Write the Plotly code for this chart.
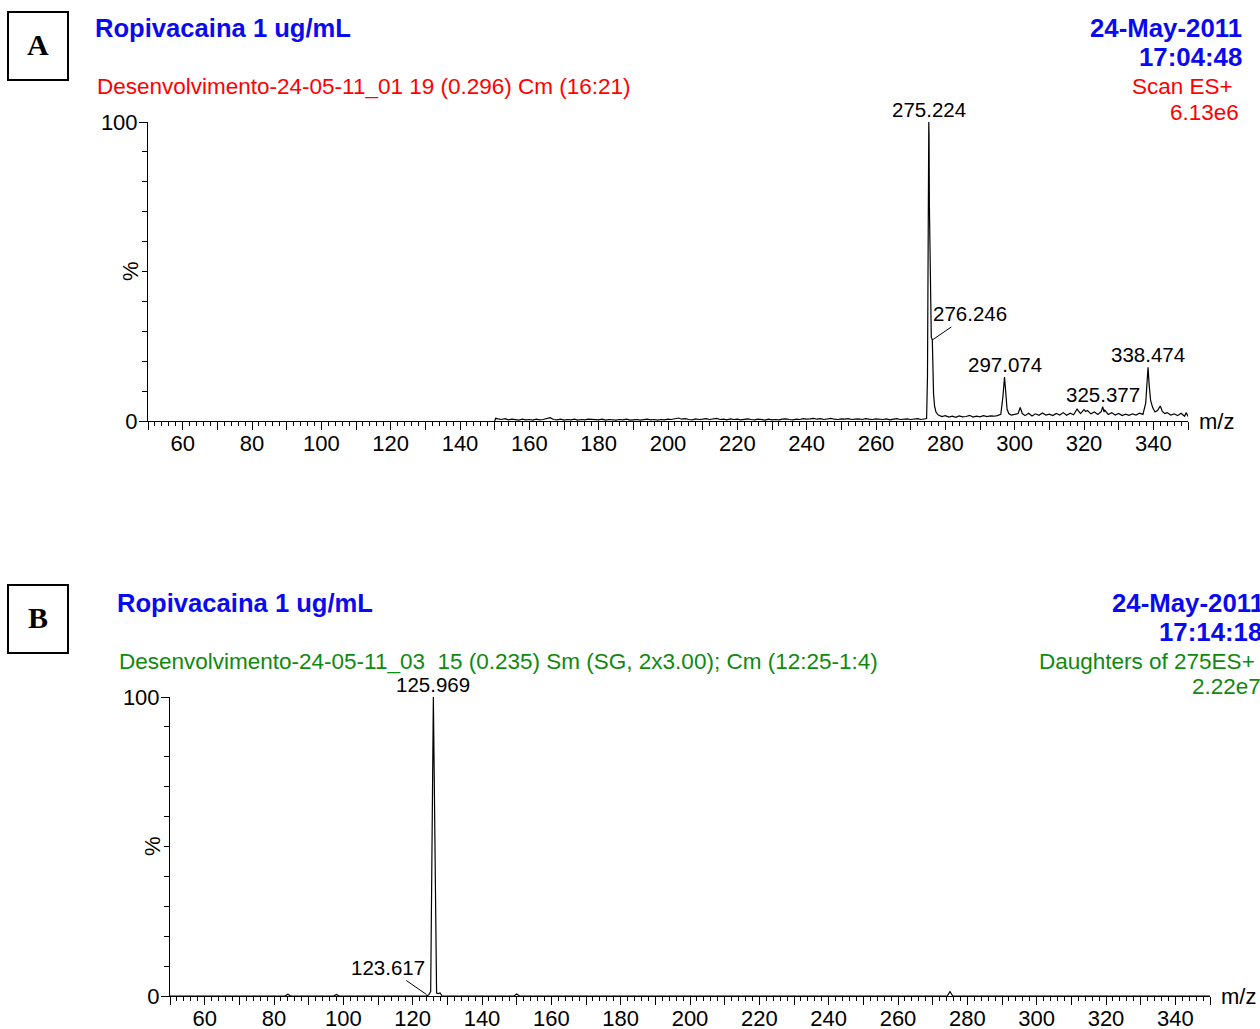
import plotly.graph_objects as go

W, H = 1260, 1029

# ---------------- DATA ----------------
# Panel A spectrum (m/z, relative intensity %)
mz_a = [150.0, 150.3,
        151, 152, 153, 154, 155, 156, 157, 158, 159, 160,
        161, 162, 163, 164, 165, 166, 167, 168, 169, 170,
        171, 172, 173, 174, 175, 176, 177, 178, 179, 180,
        181, 182, 183, 184, 185, 186, 187, 188, 189, 190,
        191, 192, 193, 194, 195, 196, 197, 198, 199, 200,
        201, 202, 203, 204, 205, 206, 207, 208, 209, 210,
        211, 212, 213, 214, 215, 216, 217, 218, 219, 220,
        221, 222, 223, 224, 225, 226, 227, 228, 229, 230,
        231, 232, 233, 234, 235, 236, 237, 238, 239, 240,
        241, 242, 243, 244, 245, 246, 247, 248, 249, 250,
        251, 252, 253, 254, 255, 256, 257, 258, 259, 260,
        261, 262, 263, 264, 265, 266, 267, 268, 269, 270,
        271, 272, 273, 274,
        274.6, 274.85, 275.05, 275.224, 275.3, 275.4, 275.5, 275.7, 275.95, 276.246, 276.35,
        276.6, 276.9, 277.3, 277.8,
        278, 279, 280, 281, 282, 283, 284, 285, 286, 287,
        288, 289, 290, 291, 292, 293, 294, 295, 296, 296.6,
        297.074, 297.4, 297.8, 298.3, 299, 300, 301, 301.6, 302.2, 303,
        304, 305, 306, 307, 308, 309, 310, 311, 312, 313,
        314, 315, 316, 317, 318, 319, 320, 320.5, 321, 322,
        323, 324, 325, 325.377, 325.8, 326, 327, 328, 329, 330,
        331, 332, 333, 334, 335, 336, 337, 337.8, 338.2, 338.474,
        338.8, 339.2, 339.8, 340.5, 341.2, 342, 342.6, 343.3, 344, 345,
        346, 347, 348, 349, 349.5, 350]
int_a = [0.0, 0.9,
         0.7, 0.5, 0.8, 0.4, 0.6, 0.5, 0.3, 0.6, 0.4, 0.5,
         0.3, 0.6, 0.4, 0.5, 0.9, 1.1, 0.5, 0.4, 0.6, 0.3,
         0.5, 0.4, 0.6, 0.3, 0.5, 0.4, 0.6, 0.5, 0.3, 0.4,
         0.6, 0.3, 0.5, 0.4, 0.3, 0.5, 0.4, 0.6, 0.3, 0.4,
         0.5, 0.3, 0.4, 0.6, 0.4, 0.5, 0.3, 0.5, 0.4, 0.6,
         0.5, 0.7, 1.0, 0.6, 0.8, 0.5, 0.4, 0.7, 0.5, 0.6,
         0.8, 0.5, 0.7, 0.9, 0.5, 0.6, 0.4, 0.7, 0.5, 0.6,
         0.4, 0.6, 0.7, 0.5, 0.4, 0.6, 0.5, 0.3, 0.6, 0.4,
         0.5, 0.4, 0.6, 0.7, 0.5, 0.4, 0.6, 0.5, 0.8, 0.6,
         0.7, 0.9, 0.6, 0.8, 0.5, 0.7, 0.9, 0.6, 0.5, 0.7,
         0.6, 0.8, 0.5, 0.6, 0.7, 0.5, 0.8, 0.6, 0.5, 0.7,
         0.6, 0.5, 0.7, 0.4, 0.6, 0.8, 0.5, 0.6, 0.7, 0.5,
         0.6, 0.8, 0.5, 0.7,
         0.8, 15.0, 75.0, 100.0, 96.0, 72.0, 62.0, 40.0, 28.0, 27.1, 19.0,
         9.0, 5.0, 3.0, 2.2,
         2.0, 1.5, 1.8, 1.3, 1.6, 1.2, 1.7, 1.4, 1.5, 1.9,
         1.3, 1.6, 1.4, 1.8, 1.5, 1.7, 1.6, 1.8, 2.2, 8.0,
         14.7, 10.0, 4.0, 2.5, 2.0, 2.2, 2.5, 4.5, 2.5, 1.8,
         2.6, 1.7, 2.4, 1.9, 2.7, 2.0, 2.3, 1.8, 2.5, 2.0,
         2.8, 1.9, 2.6, 2.1, 4.0, 2.5, 3.8, 3.2, 3.5, 2.4,
         3.0, 2.2, 3.2, 4.8, 3.0, 3.6, 2.2, 2.8, 2.0, 2.5,
         1.8, 2.3, 1.9, 2.4, 2.0, 2.6, 2.2, 6.0, 14.0, 18.0,
         12.0, 7.0, 4.5, 3.0, 3.5, 5.0, 3.2, 2.5, 2.8, 2.0,
         2.4, 1.8, 2.6, 1.6, 2.8, 1.5]

peak_mz_a = [275.224, 297.074, 325.377, 338.474]
peak_int_a = [100.0, 14.7, 4.8, 18.0]
peak_lbl_a = ["275.224", "297.074", "325.377", "338.474"]
arrow_lbl_a = ("276.246", 276.246, 27.1)

# Panel B spectrum
mz_b = [50, 83.2, 84, 84.8, 97.2, 98, 98.8, 123.8, 124.6, 125.2, 125.969,
        126.9, 127.4, 127.9, 128.5, 149.2, 150, 150.8, 274.2, 275, 275.8, 350]
int_b = [0, 0, 0.6, 0, 0, 0.5, 0, 0, 0.3, 1.5, 100,
         1.0, 0.8, 1.0, 0, 0, 0.7, 0, 0, 1.5, 0, 0]
peak_mz_b = [125.969]
peak_int_b = [100.0]
peak_lbl_b = ["125.969"]
arrow_lbl_b = ("123.617", 124.0, 0.5)

x_tickvals = [50, 60, 70, 80, 90, 100, 110, 120, 130, 140, 150, 160, 170, 180, 190,
              200, 210, 220, 230, 240, 250, 260, 270, 280, 290, 300, 310, 320, 330, 340, 350]
x_ticktext = ["", "60", "", "80", "", "100", "", "120", "", "140", "", "160", "", "180", "",
              "200", "", "220", "", "240", "", "260", "", "280", "", "300", "", "320", "", "340", ""]

title_txt = "Ropivacaina 1 ug/mL"
sub_a = "Desenvolvimento-24-05-11_01 19 (0.296) Cm (16:21)"
sub_b = "Desenvolvimento-24-05-11_03  15 (0.235) Sm (SG, 2x3.00); Cm (12:25-1:4)"
date_a = ["24-May-2011", "17:04:48"]
date_b = ["24-May-2011", "17:14:18"]
info_a = ["Scan ES+", "6.13e6"]
info_b = ["Daughters of 275ES+", "2.22e7"]

# ---------------- STYLE ----------------
FONT = "Liberation Sans, Arial, sans-serif"
BLUE = "#0A0AF2"
RED = "#FF0000"
GREEN = "#0E8A0E"
OFF = 0  # page body margin removed via post_script


def px(x):
    return (x - OFF) / W


def py(y):
    return 1 - (y - OFF) / H


fig = go.Figure()
fig.add_trace(go.Scatter(x=mz_a, y=int_a, mode="lines", line=dict(color="black", width=1.2),
                         xaxis="x", yaxis="y", showlegend=False, hoverinfo="skip"))
fig.add_trace(go.Scatter(x=mz_b, y=int_b, mode="lines", line=dict(color="black", width=1.2),
                         xaxis="x2", yaxis="y2", showlegend=False, hoverinfo="skip"))


def xaxis_cfg(dom, anchor):
    return dict(domain=dom, anchor=anchor, range=[50, 350], showgrid=False, zeroline=False,
                automargin=False,
                showline=True, linecolor="black", linewidth=1,
                tickmode="array", tickvals=x_tickvals, ticktext=x_ticktext,
                ticks="outside", ticklen=8, tickwidth=1, tickcolor="black",
                ticklabelstandoff=-5,
                minor=dict(ticks="outside", dtick=2, tick0=50, ticklen=4, tickwidth=1, tickcolor="black"),
                tickfont=dict(family=FONT, size=22, color="black"))


def yaxis_cfg(dom, anchor):
    return dict(domain=dom, anchor=anchor, range=[0, 100], showgrid=False, zeroline=False,
                automargin=False,
                showline=True, linecolor="black", linewidth=1,
                tickmode="array", tickvals=[0, 100], ticktext=["0", "100"],
                ticks="outside", ticklen=8, tickwidth=1, tickcolor="black",
                ticklabelstandoff=-3,
                minor=dict(ticks="outside", dtick=10, tick0=0, ticklen=5, tickwidth=1, tickcolor="black"),
                tickfont=dict(family=FONT, size=22, color="black"))


fig.update_layout(
    width=W, height=H, margin=dict(l=0, r=0, t=0, b=0, autoexpand=False),
    paper_bgcolor="white", plot_bgcolor="white",
    xaxis=xaxis_cfg([px(148), px(1188)], "y"),
    yaxis=yaxis_cfg([py(421), py(122)], "x"),
    xaxis2=xaxis_cfg([px(170), px(1210)], "y2"),
    yaxis2=yaxis_cfg([py(996), py(697)], "x2"),
)

ann = []


def ptext(text, x, y, color, size, xanchor="left", bold=False, family=FONT):
    t = f"<b>{text}</b>" if bold else text
    ann.append(dict(text=t, x=px(x), y=py(y), xref="paper", yref="paper", xanchor=xanchor,
                    yanchor="middle", showarrow=False, font=dict(family=family, size=size, color=color)))


# Panel A header
ptext(title_txt, 93, 28, BLUE, 25.6, bold=True)
ptext(sub_a, 95, 87, RED, 22.5)
ptext(date_a[0], 1244, 28, BLUE, 25.8, xanchor="right", bold=True)
ptext(date_a[1], 1244, 57, BLUE, 25.8, xanchor="right", bold=True)
ptext(info_a[0], 1235, 87, RED, 22.5, xanchor="right")
ptext(info_a[1], 1241, 112, RED, 22.5, xanchor="right")
ptext("A", 38, 44, "black", 30, xanchor="center", bold=True, family="Liberation Serif, Times New Roman, serif")

# Panel B header
ptext(title_txt, 115, 603, BLUE, 25.6, bold=True)
ptext(sub_b, 117, 661, GREEN, 22.5)
ptext(date_b[0], 1266, 603, BLUE, 25.8, xanchor="right", bold=True)
ptext(date_b[1], 1264, 632, BLUE, 25.8, xanchor="right", bold=True)
ptext(info_b[0], 1257, 661, GREEN, 22.5, xanchor="right")
ptext(info_b[1], 1263, 686, GREEN, 22.5, xanchor="right")
ptext("B", 38, 617, "black", 30, xanchor="center", bold=True, family="Liberation Serif, Times New Roman, serif")

# axis extras
for xl, yl in [(130, 271), (152, 846)]:
    ann.append(dict(text="%", x=px(xl), y=py(yl), xref="paper", yref="paper", textangle=-90,
                    xanchor="center", yanchor="middle", showarrow=False,
                    font=dict(family=FONT, size=22, color="black")))
ann.append(dict(text="m/z", x=px(1197), y=0, xref="paper", yref="y", xanchor="left", yanchor="middle",
                showarrow=False, font=dict(family=FONT, size=22, color="black")))
ann.append(dict(text="m/z", x=px(1219), y=0, xref="paper", yref="y2", xanchor="left", yanchor="middle",
                showarrow=False, font=dict(family=FONT, size=22, color="black")))

# peak labels
for xr, yr, mzs, ints, lbls in [("x", "y", peak_mz_a, peak_int_a, peak_lbl_a),
                                ("x2", "y2", peak_mz_b, peak_int_b, peak_lbl_b)]:
    for m, v, l in zip(mzs, ints, lbls):
        ann.append(dict(text=l, x=m, y=v, xref=xr, yref=yr, xanchor="center", yanchor="bottom",
                        showarrow=False, yshift=-1, font=dict(family=FONT, size=20.5, color="black")))

for xr, yr, (lbl, m, v), axv, ayv in [("x", "y", arrow_lbl_a, 38, -26), ("x2", "y2", arrow_lbl_b, -39, -27)]:
    ann.append(dict(text=lbl, x=m, y=v, xref=xr, yref=yr, showarrow=True, arrowhead=0, arrowwidth=1,
                    arrowcolor="black", ax=axv, ay=ayv, standoff=0,
                    font=dict(family=FONT, size=20.5, color="black")))

fig.update_layout(annotations=ann)

shapes = [
    dict(type="rect", xref="paper", yref="paper", x0=px(8), x1=px(68), y0=py(80), y1=py(12),
         line=dict(color="black", width=2)),
    dict(type="rect", xref="paper", yref="paper", x0=px(8), x1=px(68), y0=py(653), y1=py(585),
         line=dict(color="black", width=2)),
]
fig.update_layout(shapes=shapes)

fig.write_html("out.html", config={"displayModeBar": False},
               post_script="document.body.style.margin='0';document.body.style.overflow='hidden';")
